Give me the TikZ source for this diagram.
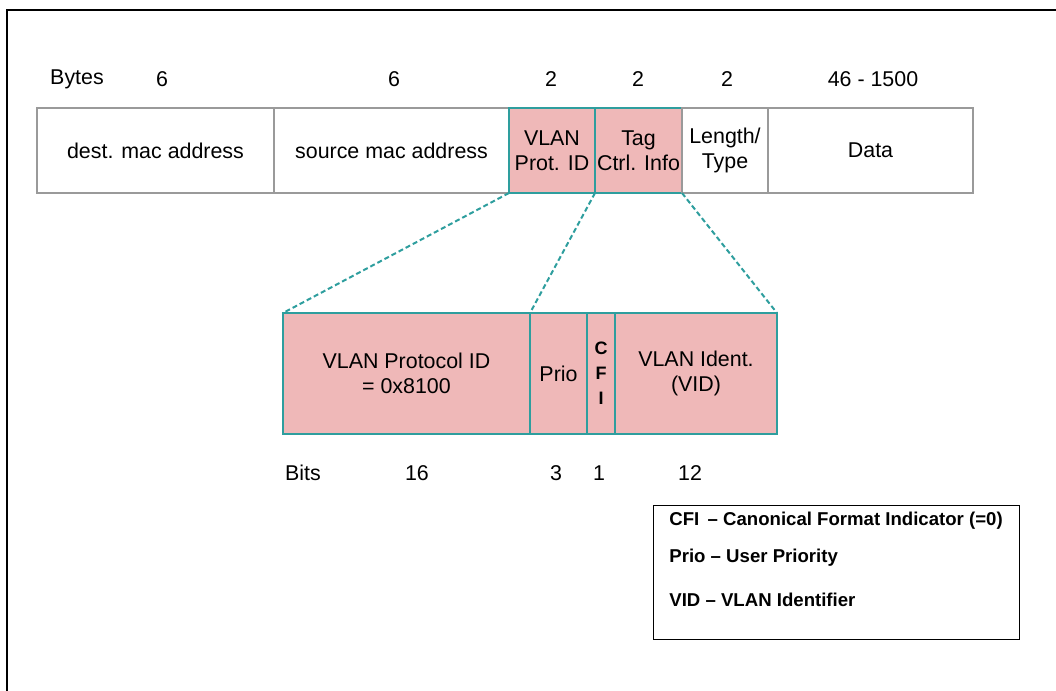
\documentclass[tikz,border=0pt]{standalone}
\usepackage{fontspec}
\setmainfont{Liberation Sans}
\usepackage{xcolor}
\usepackage{tikz}
\usetikzlibrary{positioning}

\definecolor{tagpink}{HTML}{EFB8B8}
\definecolor{tagteal}{HTML}{2E9E9E}
\definecolor{boxgray}{HTML}{9A9A9A}

\tikzset{
	field/.style={draw=boxgray,line width=0.6pt,minimum height=42.5pt,inner sep=0pt,outer sep=0pt,align=center,font=\fontsize{10.7}{12.5}\selectfont},
	tagfield/.style={field,draw=tagteal,fill=tagpink},
	bitfield/.style={tagfield,minimum height=60.5pt},
	numlabel/.style={inner sep=0pt,font=\fontsize{10.7}{12.5}\selectfont},
	legendtext/.style={anchor=west,inner sep=0pt,font=\fontsize{9.3}{11}\selectfont\bfseries},
	zoomline/.style={tagteal,line width=1pt,dash pattern=on 2.5pt off 1.5pt}
}

\begin{document}
\begin{tikzpicture}[x=0.5pt,y=-0.5pt]
	\useasboundingbox (0,0) rectangle (1056,691);
	\draw[line width=1pt] (1056,10) -- (7,10) -- (7,691);

	\node[numlabel] (bytes) at (77,79) {Bytes};
	\node[numlabel] (bdest) at (162,79) {6};
	\node[numlabel] (bsrc) at (394,79) {6};
	\node[numlabel] (bvpid) at (551,79) {2};
	\node[numlabel] (btci) at (638,79) {2};
	\node[numlabel] (blt) at (727,79) {2};
	\node[numlabel] (bdata) at (873,79) {46 - 1500};

	\node[field,minimum width=118.5pt] (dest) at (155.5,150.5) {dest. mac address};
	\node[field,minimum width=117.5pt,right=0pt of dest] (src) {source mac address};
	\node[tagfield,minimum width=43pt,right=0pt of src] (vpid) {VLAN\\Prot. ID};
	\node[tagfield,minimum width=43.5pt,right=0pt of vpid] (tci) {Tag\\Ctrl. Info};
	\node[field,minimum width=43pt,right=0pt of tci] (lt) {Length/\\Type};
	\node[field,minimum width=102.5pt,right=0pt of lt] (data) {Data};

	\node[bitfield,minimum width=123.5pt] (protid) at (406.5,373.5) {VLAN Protocol ID\\= 0x8100};
	\node[bitfield,minimum width=28.5pt,right=0pt of protid] (prio) {Prio};
	\node[bitfield,minimum width=14pt,right=0pt of prio,font=\fontsize{9}{12.5}\selectfont\bfseries] (cfi) {C\\F\\I};
	\node[bitfield,minimum width=81pt,right=0pt of cfi] (vid) {VLAN Ident.\\(VID)};

	\draw[zoomline] (vpid.south west) -- (protid.north west);
	\draw[zoomline] (tci.south west) -- (prio.north west);
	\draw[zoomline] (tci.south east) -- (vid.north east);

	\node[numlabel] (bits) at (303,473) {Bits};
	\node[numlabel] (nprotid) at (417,473) {16};
	\node[numlabel] (nprio) at (556,473) {3};
	\node[numlabel] (ncfi) at (599,473) {1};
	\node[numlabel] (nvid) at (690,473) {12};

	\node[draw,line width=0.6pt,minimum width=183pt,minimum height=67pt,inner sep=0pt,anchor=north west] (legend) at (653,505) {};
	\node[legendtext] (lcfi) at (669,521) {CFI\, -- Canonical Format Indicator (=0)};
	\node[legendtext] (lprio) at (669,558) {Prio -- User Priority};
	\node[legendtext] (lvid) at (669,600) {VID -- VLAN Identifier};
\end{tikzpicture}
\end{document}
